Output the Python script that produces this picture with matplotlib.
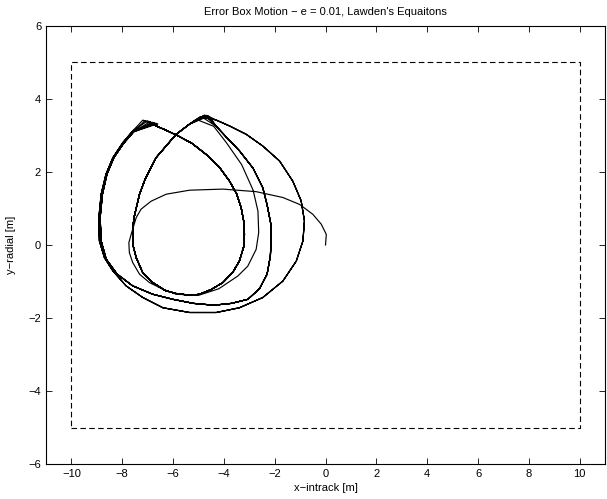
import numpy as np
import matplotlib
matplotlib.use("Agg")
import matplotlib.pyplot as plt

plt.rcParams['font.family'] = ['Liberation Sans', 'DejaVu Sans']

# error box limits [m]
box_x = [-10, 10, 10, -10, -10]
box_y = [-5, -5, 5, 5, -5]

# first pass, starting from the origin
start_x = [0.0, 0.03, -0.17, -0.5, -1.02, -1.68, -2.73, -4.04, -5.35, -6.27, -6.86,
           -7.26, -7.45, -7.65, -7.74, -7.72, -7.59, -7.32, -6.93, -6.41, -5.88,
           -5.0, -4.2, -3.45, -3.06, -2.73, -2.63, -2.66, -2.85, -3.3, -3.9, -4.4]
start_y = [0.0, 0.29, 0.57, 0.84, 1.11, 1.30, 1.46, 1.53, 1.50, 1.39, 1.20,
           0.98, 0.75, 0.29, 0.06, -0.21, -0.48, -0.80, -1.03, -1.21, -1.35,
           -1.38, -1.2, -0.85, -0.58, -0.12, 0.34, 0.93, 1.5, 2.2, 2.8, 3.25]

# inner loop: right cusp -> left cusp
inner_x = [-5.35, -5.88, -6.67, -7.1, -7.32, -7.52, -7.59, -7.58, -7.45, -7.2, -6.8,
           -6.3, -5.88, -5.3, -4.96, -4.5, -4.04, -3.65, -3.39, -3.22, -3.19, -3.22,
           -3.32, -3.5, -3.78, -4.2, -4.7, -5.25, -5.81, -6.3, -6.67]
inner_y = [3.31, 3.03, 2.39, 1.8, 1.39, 0.8, 0.47, 0.0, -0.35, -0.75, -1.03,
           -1.25, -1.33, -1.38, -1.35, -1.22, -1.03, -0.75, -0.44, -0.05, 0.29, 0.65,
           1.02, 1.4, 1.75, 2.15, 2.48, 2.78, 2.99, 3.15, 3.26]

# wide outer loop: left cusp -> right cusp
big_x = [-7.59, -7.98, -8.37, -8.64, -8.83, -8.92, -8.90, -8.70, -8.37, -7.85, -7.19,
         -6.40, -5.35, -4.30, -3.39, -2.47, -1.68, -1.15, -0.89, -0.83, -0.96, -1.29,
         -1.81, -2.47, -3.12, -3.78, -4.30]
big_y = [3.12, 2.80, 2.39, 1.94, 1.39, 0.75, 0.11, -0.35, -0.71, -1.12, -1.44,
         -1.72, -1.85, -1.85, -1.72, -1.44, -0.99, -0.44, 0.11, 0.66, 1.21, 1.75,
         2.30, 2.71, 3.03, 3.26, 3.42]

# narrower outer loop: left cusp -> right cusp
mid_x = [-7.55, -7.95, -8.33, -8.6, -8.78, -8.87, -8.83, -8.63, -8.2, -7.59, -6.8,
         -6.0, -5.2, -4.4, -3.7, -3.06, -2.6, -2.3, -2.17, -2.14, -2.16, -2.3, -2.47,
         -2.85, -3.39, -3.9, -4.3]
mid_y = [3.1, 2.78, 2.39, 1.94, 1.39, 0.75, 0.11, -0.39, -0.8, -1.12, -1.35,
         -1.49, -1.6, -1.65, -1.6, -1.49, -1.2, -0.8, -0.3, 0.2, 0.6, 1.1, 1.57,
         2.1, 2.58, 2.95, 3.25]

# cusp corners at the top of each loop
cusp_left_x = [-7.19, -7.1, -7.0, -6.9, -6.8, -6.72, -6.65, -6.6]
cusp_left_y = [3.42, 3.41, 3.40, 3.38, 3.36, 3.35, 3.33, 3.32]
cusp_right_x = [-5.09, -4.96, -4.9, -4.83, -4.76, -4.7, -4.65, -4.6, -4.57]
cusp_right_y = [3.44, 3.50, 3.52, 3.53, 3.56, 3.55, 3.54, 3.53, 3.51]
outer_type = ['big', 'mid', 'big', 'mid', 'mid', 'big', 'mid', 'mid']

xs = list(start_x) + [cusp_right_x[0]]
ys = list(start_y) + [cusp_right_y[0]]
for k, kind in enumerate(outer_type):
    xs += inner_x + [cusp_left_x[k]]
    ys += inner_y + [cusp_left_y[k]]
    ox, oy = (big_x, big_y) if kind == 'big' else (mid_x, mid_y)
    xs += ox + [cusp_right_x[k + 1]]
    ys += oy + [cusp_right_y[k + 1]]

fig = plt.figure(figsize=(6.07, 4.99), dpi=100)
ax = fig.add_axes([0.0758, 0.0701, 0.921, 0.878])

ax.plot(xs, ys, color='black', lw=0.85)
ax.plot(box_x, box_y, color='black', lw=0.8, linestyle=(0, (5, 3)))

ax.set_xlim(-11, 11)
ax.set_ylim(-6, 6)
ax.set_xticks(np.arange(-10, 11, 2))
ax.set_yticks(np.arange(-6, 7, 2))
ax.tick_params(direction='in', top=True, right=True, length=4, width=0.6, labelsize=8)
for s in ax.spines.values():
    s.set_linewidth(0.8)

ax.set_title("Error Box Motion \u2212 e = 0.01, Lawden's Equaitons", fontsize=8, pad=8)
ax.set_xlabel("x\u2212intrack [m]", fontsize=8, labelpad=3)
ax.set_ylabel("y\u2212radial [m]", fontsize=8, labelpad=9)

fig.savefig("out.png", dpi=100)
